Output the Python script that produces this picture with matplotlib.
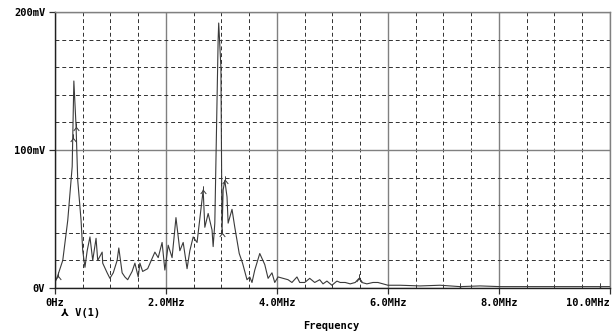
import numpy as np
import matplotlib.pyplot as plt
from matplotlib.path import Path
from matplotlib.ticker import MultipleLocator

# spectrum of V(1)
freq_mhz = [0.00, 0.05, 0.14, 0.23, 0.31, 0.32, 0.34, 0.38, 0.41, 0.47, 0.50,
            0.54, 0.58, 0.63, 0.68, 0.74, 0.77, 0.85, 0.86, 0.94, 0.99, 1.05,
            1.12, 1.15, 1.21, 1.26, 1.31, 1.39, 1.44, 1.50, 1.53, 1.58, 1.67,
            1.80, 1.86, 1.93, 1.98, 2.04, 2.11, 2.18, 2.25, 2.31, 2.38, 2.43,
            2.49, 2.56, 2.65, 2.67, 2.70, 2.76, 2.83, 2.85, 2.88, 2.92, 2.94,
            2.95, 2.99, 3.01, 3.03, 3.06, 3.10, 3.12, 3.19, 3.24, 3.32, 3.38,
            3.46, 3.51, 3.55, 3.60, 3.69, 3.78, 3.84, 3.91, 3.96, 4.02, 4.11,
            4.20, 4.27, 4.36, 4.41, 4.50, 4.59, 4.68, 4.77, 4.83, 4.90, 4.99,
            5.08, 5.14, 5.23, 5.32, 5.41, 5.48, 5.53, 5.62, 5.73, 5.82, 5.91,
            6.00, 6.22, 6.58, 6.94, 7.30, 7.66, 8.02, 8.38, 8.74, 9.10, 9.46,
            9.82, 10.00]
volt_mv = [4, 9, 20, 49, 88, 109, 150, 117, 78, 49, 27,
           15, 27, 37, 20, 36, 20, 26, 18, 11, 7, 11,
           20, 29, 11, 8, 6, 12, 18, 8, 18, 12, 14,
           26, 22, 33, 13, 31, 22, 51, 27, 33, 14, 27,
           37, 33, 64, 71, 44, 54, 42, 30, 47, 136, 180,
           192, 160, 40, 71, 78, 66, 47, 57, 44, 25, 18,
           6, 8, 4, 13, 25, 17, 7, 11, 4, 8, 7,
           6, 4, 8, 4, 4, 7, 4, 6, 3, 5, 2,
           5, 4, 4, 3, 4, 7, 4, 3, 4, 4, 3,
           2, 2, 1.5, 2, 1, 1.5, 1, 1, 1, 1, 1,
           1, 1]
trace_name = "V(1)"
x_ticks = [0, 2, 4, 6, 8, 10]
x_labels = ["0Hz", "2.0MHz", "4.0MHz", "6.0MHz", "8.0MHz", "10.0MHz"]
y_ticks = [0, 100, 200]
y_labels = ["0V", "100mV", "200mV"]

mono = ["DejaVu Sans Mono", "DejaVu Sans"]

fig = plt.figure(figsize=(6.13, 3.35), dpi=100)
ax = fig.add_axes([0.0897, 0.1403, 0.9053, 0.8239])

# pspice style trace marker (turned Y)
mk = Path([(0, 1.2), (0, 0), (-0.8, -1), (0, 0), (0.8, -1)],
          [Path.MOVETO, Path.LINETO, Path.LINETO, Path.MOVETO, Path.LINETO])
mark_idx = [1, 5, 7, 47, 57, 59, 93, 103, 110]

ax.plot(freq_mhz, volt_mv, color='#3a3a3a', lw=0.8, marker=mk, markersize=6,
        markevery=mark_idx, mfc='none', mec='#3a3a3a', mew=0.7)

ax.set_xlim(0, 10)
ax.set_ylim(0, 200)
ax.set_xticks(x_ticks)
ax.set_xticklabels(x_labels)
ax.set_yticks(y_ticks)
ax.set_yticklabels(y_labels)
ax.xaxis.set_minor_locator(MultipleLocator(0.5))
ax.yaxis.set_minor_locator(MultipleLocator(20))

ax.grid(which='major', color='#808080', lw=1.0, ls='-')
ax.grid(which='minor', color='#303030', lw=0.7, ls=(0, (4, 3)))
ax.set_axisbelow(True)

ax.tick_params(which='minor', length=0)
ax.tick_params(which='major', length=4, width=0.9, color='#303030', pad=3)
for lab in ax.get_xticklabels() + ax.get_yticklabels():
    lab.set_family(mono)
    lab.set_fontweight('bold')
    lab.set_fontsize(7.5)
ax.get_xticklabels()[-1].set_ha('right')

for side in ['top', 'right']:
    ax.spines[side].set_color('#808080')
for side in ['left', 'bottom']:
    ax.spines[side].set_color('#202020')
for sp in ax.spines.values():
    sp.set_linewidth(1.0)

fig.text(0.099, 0.066, "\u2144 " + trace_name, family=mono, fontweight='bold',
         fontsize=7.5, va='center')
fig.text(0.541, 0.027, "Frequency", family=mono, fontweight='bold',
         fontsize=7.5, ha='center', va='center')

fig.savefig("out.png", dpi=100)
